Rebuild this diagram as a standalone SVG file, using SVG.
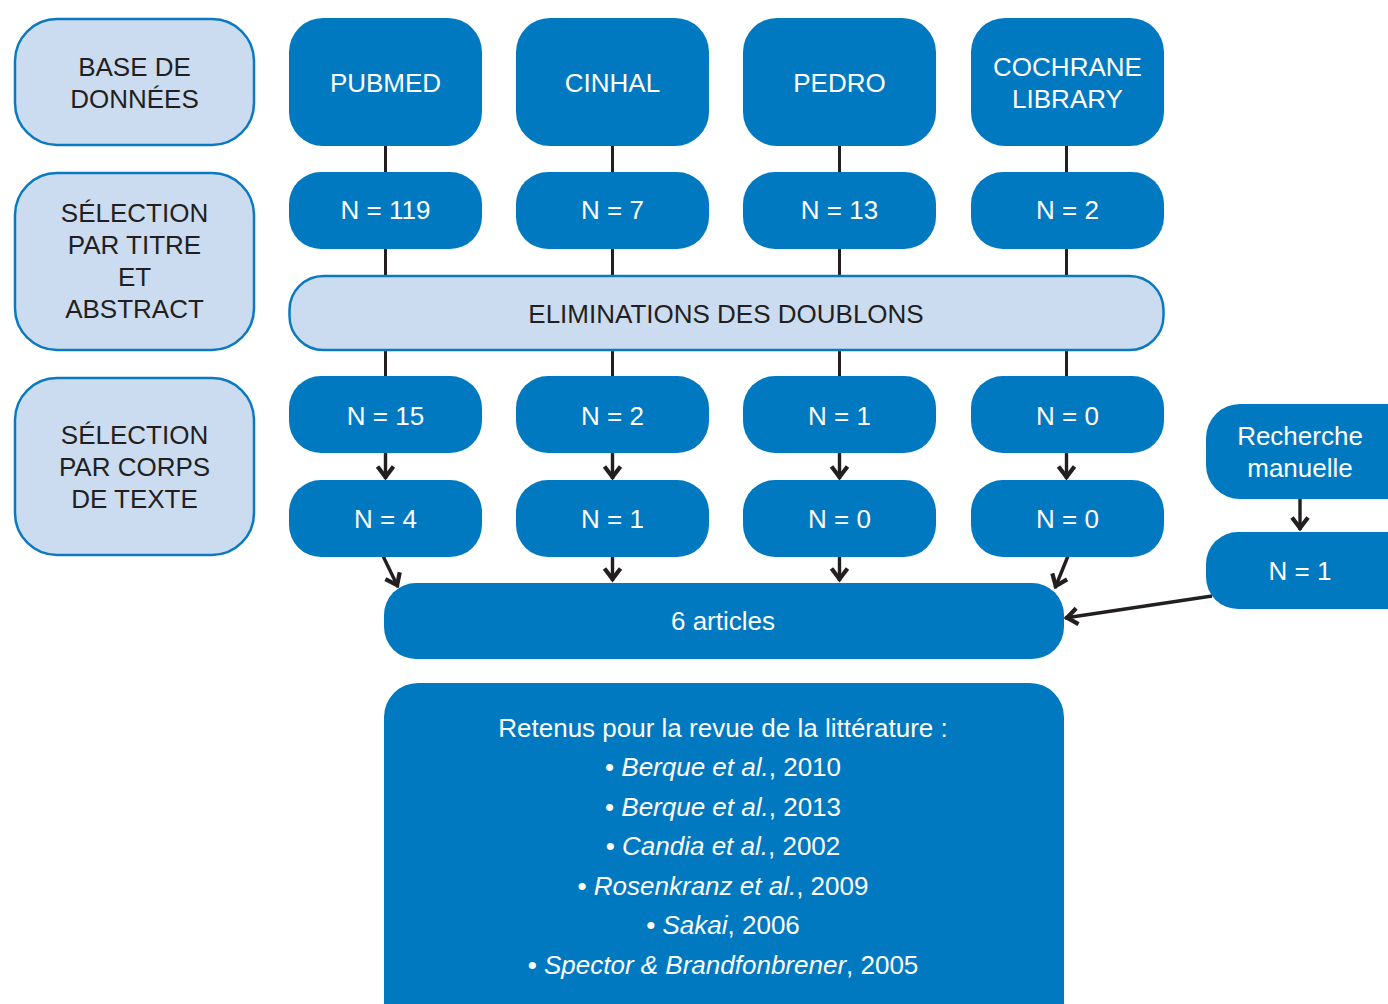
<svg xmlns="http://www.w3.org/2000/svg" width="1388" height="1004" viewBox="0 0 1388 1004">
<defs>
<style>
.dark{fill:#0079c1;}
.light{fill:#ccdcf0;stroke:#0a7ac0;stroke-width:2.5;}
.tw{fill:#ffffff;font-family:"Liberation Sans",Arial,sans-serif;font-size:26px;text-anchor:middle;}
.tk{fill:#231f20;font-family:"Liberation Sans",Arial,sans-serif;font-size:26px;text-anchor:middle;}
.ln{stroke:#231f20;stroke-width:3;fill:none;}
.ar{stroke:#231f20;stroke-width:3.4;fill:none;marker-end:url(#chev);}
</style>
<marker id="chev" viewBox="-16 -11 18 22" refX="0" refY="0" markerWidth="18" markerHeight="22" markerUnits="userSpaceOnUse" orient="auto">
<path d="M-12.5,-8 L-2,0 L-12.5,8" fill="none" stroke="#231f20" stroke-width="4.2" stroke-linejoin="miter" stroke-miterlimit="10"/>
</marker>
</defs>
<rect width="1388" height="1004" fill="#ffffff"/>

<g id="connectors">
<line class="ln" x1="385.5" y1="145" x2="385.5" y2="173"/>
<line class="ln" x1="612.5" y1="145" x2="612.5" y2="173"/>
<line class="ln" x1="839.5" y1="145" x2="839.5" y2="173"/>
<line class="ln" x1="1066.5" y1="145" x2="1066.5" y2="173"/>
<line class="ln" x1="385.5" y1="248" x2="385.5" y2="276"/>
<line class="ln" x1="612.5" y1="248" x2="612.5" y2="276"/>
<line class="ln" x1="839.5" y1="248" x2="839.5" y2="276"/>
<line class="ln" x1="1066.5" y1="248" x2="1066.5" y2="276"/>
<line class="ln" x1="385.5" y1="350" x2="385.5" y2="377"/>
<line class="ln" x1="612.5" y1="350" x2="612.5" y2="377"/>
<line class="ln" x1="839.5" y1="350" x2="839.5" y2="377"/>
<line class="ln" x1="1066.5" y1="350" x2="1066.5" y2="377"/>
<line class="ar" x1="385.5" y1="452" x2="385.5" y2="479"/>
<line class="ar" x1="612.5" y1="452" x2="612.5" y2="479"/>
<line class="ar" x1="839.5" y1="452" x2="839.5" y2="479"/>
<line class="ar" x1="1066.5" y1="452" x2="1066.5" y2="479"/>
<line class="ar" x1="383" y1="556" x2="398" y2="587"/>
<line class="ar" x1="612.5" y1="556" x2="612.5" y2="581"/>
<line class="ar" x1="839.5" y1="556" x2="839.5" y2="581"/>
<line class="ar" x1="1068" y1="556" x2="1055" y2="588"/>
<line class="ar" x1="1300" y1="498" x2="1300" y2="530"/>
<line class="ar" x1="1212" y1="596" x2="1065" y2="618"/>
</g>

<g id="base">
<rect class="light" x="15" y="19" width="239" height="126" rx="42"/>
<text class="tk" x="134.5" y="76">BASE DE</text>
<text class="tk" x="134.5" y="108">DONNÉES</text>
</g>
<g id="sel-titre">
<rect class="light" x="15" y="173" width="239" height="177" rx="42"/>
<text class="tk" x="134.5" y="222">SÉLECTION</text>
<text class="tk" x="134.5" y="254">PAR TITRE</text>
<text class="tk" x="134.5" y="286">ET</text>
<text class="tk" x="134.5" y="318">ABSTRACT</text>
</g>
<g id="sel-corps">
<rect class="light" x="15" y="378" width="239" height="177" rx="42"/>
<text class="tk" x="134.5" y="444">SÉLECTION</text>
<text class="tk" x="134.5" y="476">PAR CORPS</text>
<text class="tk" x="134.5" y="508">DE TEXTE</text>
</g>

<g id="pubmed">
<rect class="dark" x="289" y="18" width="193" height="128" rx="34"/>
<text class="tw" x="385.5" y="92">PUBMED</text>
</g>
<g id="cinhal">
<rect class="dark" x="516" y="18" width="193" height="128" rx="34"/>
<text class="tw" x="612.5" y="92">CINHAL</text>
</g>
<g id="pedro">
<rect class="dark" x="743" y="18" width="193" height="128" rx="34"/>
<text class="tw" x="839.5" y="92">PEDRO</text>
</g>
<g id="cochrane">
<rect class="dark" x="971" y="18" width="193" height="128" rx="34"/>
<text class="tw" x="1067.5" y="76">COCHRANE</text>
<text class="tw" x="1067.5" y="108">LIBRARY</text>
</g>

<g id="n119">
<rect class="dark" x="289" y="172" width="193" height="77" rx="32"/>
<text class="tw" x="385.5" y="219">N = 119</text>
</g>
<g id="n7">
<rect class="dark" x="516" y="172" width="193" height="77" rx="32"/>
<text class="tw" x="612.5" y="219">N = 7</text>
</g>
<g id="n13">
<rect class="dark" x="743" y="172" width="193" height="77" rx="32"/>
<text class="tw" x="839.5" y="219">N = 13</text>
</g>
<g id="n2a">
<rect class="dark" x="971" y="172" width="193" height="77" rx="32"/>
<text class="tw" x="1067.5" y="219">N = 2</text>
</g>

<g id="doublons">
<rect class="light" x="289.5" y="276" width="874" height="74" rx="34"/>
<text class="tk" x="726" y="323">ELIMINATIONS DES DOUBLONS</text>
</g>

<g id="n15">
<rect class="dark" x="289" y="376" width="193" height="77" rx="32"/>
<text class="tw" x="385.5" y="425">N = 15</text>
</g>
<g id="n2b">
<rect class="dark" x="516" y="376" width="193" height="77" rx="32"/>
<text class="tw" x="612.5" y="425">N = 2</text>
</g>
<g id="n1a">
<rect class="dark" x="743" y="376" width="193" height="77" rx="32"/>
<text class="tw" x="839.5" y="425">N = 1</text>
</g>
<g id="n0a">
<rect class="dark" x="971" y="376" width="193" height="77" rx="32"/>
<text class="tw" x="1067.5" y="425">N = 0</text>
</g>

<g id="n4">
<rect class="dark" x="289" y="480" width="193" height="77" rx="32"/>
<text class="tw" x="385.5" y="528">N = 4</text>
</g>
<g id="n1b">
<rect class="dark" x="516" y="480" width="193" height="77" rx="32"/>
<text class="tw" x="612.5" y="528">N = 1</text>
</g>
<g id="n0b">
<rect class="dark" x="743" y="480" width="193" height="77" rx="32"/>
<text class="tw" x="839.5" y="528">N = 0</text>
</g>
<g id="n0c">
<rect class="dark" x="971" y="480" width="193" height="77" rx="32"/>
<text class="tw" x="1067.5" y="528">N = 0</text>
</g>

<g id="recherche">
<rect class="dark" x="1206" y="404" width="220" height="95" rx="34"/>
<text class="tw" x="1300" y="445">Recherche</text>
<text class="tw" x="1300" y="477">manuelle</text>
</g>
<g id="n1c">
<rect class="dark" x="1206" y="532" width="220" height="77" rx="32"/>
<text class="tw" x="1300" y="580">N = 1</text>
</g>

<g id="articles">
<rect class="dark" x="384" y="583" width="680" height="76" rx="32"/>
<text class="tw" x="723" y="630">6 articles</text>
</g>

<g id="retenus">
<rect class="dark" x="384" y="683" width="680" height="360" rx="34"/>
<text class="tw" x="723" y="737">Retenus pour la revue de la littérature :</text>
<text class="tw" x="723" y="776">• <tspan font-style="italic">Berque et al.</tspan>, 2010</text>
<text class="tw" x="723" y="816">• <tspan font-style="italic">Berque et al.</tspan>, 2013</text>
<text class="tw" x="723" y="855">• <tspan font-style="italic">Candia et al.</tspan>, 2002</text>
<text class="tw" x="723" y="895">• <tspan font-style="italic">Rosenkranz et al.</tspan>, 2009</text>
<text class="tw" x="723" y="934">• <tspan font-style="italic">Sakai</tspan>, 2006</text>
<text class="tw" x="723" y="974">• <tspan font-style="italic">Spector &amp; Brandfonbrener</tspan>, 2005</text>
</g>
</svg>
